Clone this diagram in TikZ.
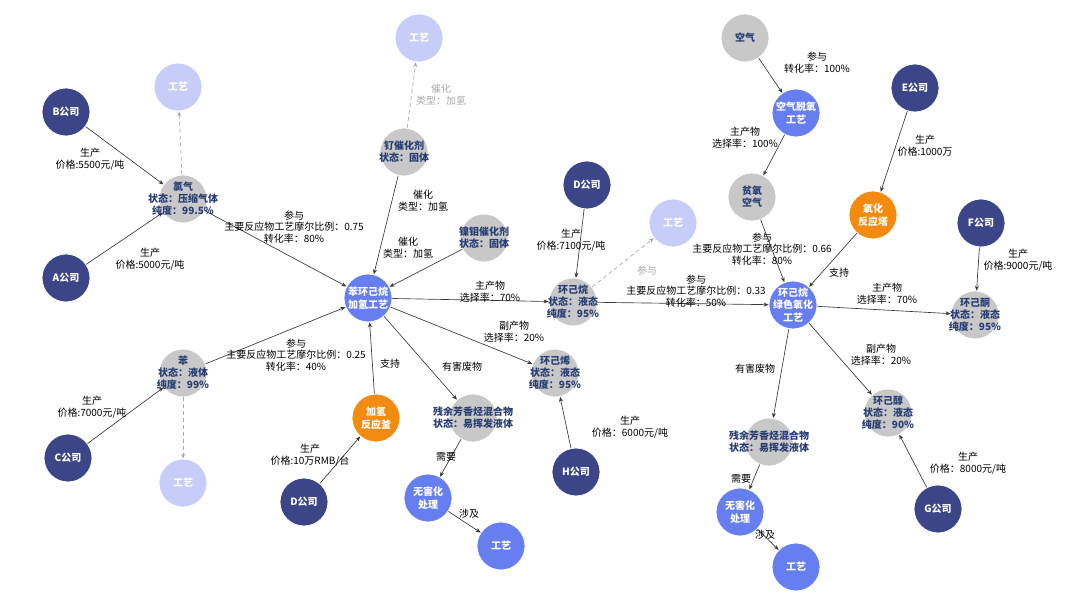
\documentclass[tikz,border=0pt]{standalone}
\usepackage{fontspec}
\setmainfont{Noto Sans CJK SC}
\usetikzlibrary{arrows.meta}
\definecolor{navy}{RGB}{59,69,135}
\definecolor{bluep}{RGB}{102,126,240}
\definecolor{litep}{RGB}{197,205,248}
\definecolor{greyn}{RGB}{200,200,200}
\definecolor{orangen}{RGB}{242,139,16}
\definecolor{ntxt}{RGB}{40,62,115}
\definecolor{edgec}{RGB}{55,55,55}
\definecolor{dashc}{RGB}{170,170,170}
\tikzset{
  base/.style={circle, minimum size=48pt, inner sep=0pt, draw=white, line width=0.8pt},
  comp/.style={base, fill=navy},
  proc/.style={base, fill=bluep},
  lite/.style={base, fill=litep},
  mat/.style={base, fill=greyn},
  equip/.style={base, fill=orangen},
  wtxt/.style={text=white, font=\fontsize{10}{12.5}\selectfont\bfseries, align=center, inner sep=0pt},
  mtxt/.style={text=ntxt, font=\fontsize{10}{12}\selectfont\bfseries, align=center, inner sep=0pt},
  lbl/.style={text=black, font=\fontsize{10}{11.8}\selectfont, align=center, inner sep=0pt},
  glbl/.style={lbl, text=dashc},
  arr/.style={draw=edgec, line width=0.65pt, -{Stealth[length=5pt,width=4pt]}},
  darr/.style={draw=dashc, line width=0.7pt, dash pattern=on 4pt off 3pt, -{Stealth[length=5pt,width=4pt]}},
}
\begin{document}
\begin{tikzpicture}[x=1pt,y=-1pt]
\useasboundingbox (0,0) rectangle (1080,609);
% ---------- nodes ----------
\node[lite, label={[wtxt]center:工艺}] (gyA) at (178,87) {};
\node[comp, label={[wtxt]center:B公司}] (B) at (66,112) {};
\node[mat, label={[mtxt]center:氯气\\状态：压缩气体\\纯度：99.5\%}] (cl) at (183,199) {};
\node[comp, label={[wtxt]center:A公司}] (A) at (66,278) {};
\node[mat, label={[mtxt]center:苯\\状态：液体\\纯度：99\%}] (ben) at (183,373) {};
\node[comp, label={[wtxt]center:C公司}] (C) at (68,458) {};
\node[lite, label={[wtxt]center:工艺}] (gyB) at (183,483) {};
\node[comp, label={[wtxt]center:D公司}] (Db) at (304,502) {};
\node[equip, label={[wtxt]center:加氢\\反应釜}] (fu) at (376,418) {};
\node[proc, label={[wtxt]center:苯环己烷\\加氢工艺}] (hp) at (368,298) {};
\node[mat, label={[mtxt]center:钌催化剂\\状态：固体}] (ru) at (404,152) {};
\node[lite, label={[wtxt]center:工艺}] (gyC) at (419,38) {};
\node[mat, label={[mtxt]center:镍钼催化剂\\状态：固体}] (ni) at (484,238) {};
\node[comp, label={[wtxt]center:D公司}] (Dm) at (587,185) {};
\node[lite, label={[wtxt]center:工艺}] (gyD) at (673,223) {};
\node[mat, label={[mtxt]center:环己烷\\状态：液态\\纯度：95\%}] (cya) at (573,302) {};
\node[mat, label={[mtxt]center:环己烯\\状态：液态\\纯度：95\%}] (cye) at (555,373) {};
\node[mat, label={[mtxt]center:残余芳香烃混合物\\状态：易挥发液体}] (res) at (473,418) {};
\node[proc, label={[wtxt]center:无害化\\处理}] (harm) at (428,498) {};
\node[proc, label={[wtxt]center:工艺}] (gyE) at (501,546) {};
\node[comp, label={[wtxt]center:H公司}] (H) at (576,472) {};
\node[mat, label={[mtxt]center:空气}] (air) at (745,38) {};
\node[proc, label={[wtxt]center:空气脱氧\\工艺}] (airp) at (796,113) {};
\node[mat, label={[mtxt]center:贫氧\\空气}] (poor) at (752,197) {};
\node[comp, label={[wtxt]center:E公司}] (E) at (915,88) {};
\node[equip, label={[wtxt]center:氧化\\反应塔}] (oxt) at (873,215) {};
\node[comp, label={[wtxt]center:F公司}] (F) at (981,223) {};
\node[proc, label={[wtxt]center:环己烷\\绿色氧化\\工艺}] (gr) at (793,305) {};
\node[mat, label={[mtxt]center:环己酮\\状态：液态\\纯度：95\%}] (ket) at (975,315) {};
\node[mat, label={[mtxt]center:环己醇\\状态：液态\\纯度：90\%}] (alc) at (888,413) {};
\node[mat, label={[mtxt]center:残余芳香烃混合物\\状态：易挥发液体}] (res2) at (769,442) {};
\node[proc, label={[wtxt]center:无害化\\处理}] (harm2) at (740,512) {};
\node[proc, label={[wtxt]center:工艺}] (gyF) at (796,567) {};
\node[comp, label={[wtxt]center:G公司}] (G) at (938,509) {};
% ---------- edges ----------
\draw[arr] (B) -- (cl);
\draw[arr] (A) -- (cl);
\draw[arr] (cl) -- (hp);
\draw[arr] (ben) -- (hp);
\draw[arr] (C) -- (ben);
\draw[darr] (ben) -- (gyB);
\draw[darr] (cl) -- (gyA);
\draw[arr] (Db) -- (fu);
\draw[arr] (fu) -- (hp);
\draw[arr] (ru) -- (hp);
\draw[darr] (ru) -- (gyC);
\draw[arr] (ni) -- (hp);
\draw[arr] (hp) -- (cya);
\draw[arr] (hp) -- (cye);
\draw[arr] (hp) -- (res);
\draw[arr] (res) -- (harm);
\draw[arr] (harm) -- (gyE);
\draw[arr] (H) -- (cye);
\draw[arr] (Dm) -- (cya);
\draw[darr] (cya) -- (gyD);
\draw[arr] (cya) -- (gr);
\draw[arr] (poor) -- (gr);
\draw[arr] (air) -- (airp);
\draw[arr] (airp) -- (poor);
\draw[arr] (E) -- (oxt);
\draw[arr] (oxt) -- (gr);
\draw[arr] (gr) -- (ket);
\draw[arr] (gr) -- (alc);
\draw[arr] (gr) -- (res2);
\draw[arr] (res2) -- (harm2);
\draw[arr] (harm2) -- (gyF);
\draw[arr] (F) -- (ket);
\draw[arr] (G) -- (alc);
% ---------- edge labels ----------
\node[lbl] (l1) at (90,159) {生产\\价格:5500元/吨};
\node[lbl] (l2) at (150,259) {生产\\价格:5000元/吨};
\node[lbl] (l3) at (294,227) {参与\\主要反应物工艺摩尔比例：0.75\\转化率：80\%};
\node[lbl] (l4) at (296,355) {参与\\主要反应物工艺摩尔比例：0.25\\转化率：40\%};
\node[lbl] (l5) at (92,407) {生产\\价格:7000元/吨};
\node[lbl] (l8) at (310,455) {生产\\价格:10万RMB/台};
\node[lbl] (l9) at (390,364) {支持};
\node[lbl] (l10) at (423,201) {催化\\类型：加氢};
\node[glbl] (l11) at (441,95) {催化\\类型：加氢};
\node[lbl] (l12) at (408,248) {催化\\类型：加氢};
\node[lbl] (l13) at (490,292) {主产物\\选择率：70\%};
\node[lbl] (l14) at (514,332) {副产物\\选择率：20\%};
\node[lbl] (l15) at (462,367) {有害废物};
\node[lbl] (l16) at (446,457) {需要};
\node[lbl] (l17) at (469,514) {涉及};
\node[lbl] (l18) at (630,427) {生产\\价格：6000元/吨};
\node[lbl] (l19) at (571,240) {生产\\价格:7100元/吨};
\node[glbl] (l20) at (647,271) {参与};
\node[lbl] (l21) at (696,291) {参与\\主要反应物工艺摩尔比例：0.33\\转化率：50\%};
\node[lbl] (l22) at (762,249) {参与\\主要反应物工艺摩尔比例：0.66\\转化率：80\%};
\node[lbl] (l23) at (817,63) {参与\\转化率：100\%};
\node[lbl] (l24) at (745,138) {主产物\\选择率：100\%};
\node[lbl] (l25) at (925,146) {生产\\价格:1000万};
\node[lbl] (l26) at (839,273) {支持};
\node[lbl] (l27) at (887,294) {主产物\\选择率：70\%};
\node[lbl] (l28) at (881,355) {副产物\\选择率：20\%};
\node[lbl] (l29) at (755,369) {有害废物};
\node[lbl] (l30) at (741,479) {需要};
\node[lbl] (l31) at (765,535) {涉及};
\node[lbl] (l32) at (1018,260) {生产\\价格:9000元/吨};
\node[lbl] (l33) at (968,463) {生产\\价格：8000元/吨};
\end{tikzpicture}
\end{document}
